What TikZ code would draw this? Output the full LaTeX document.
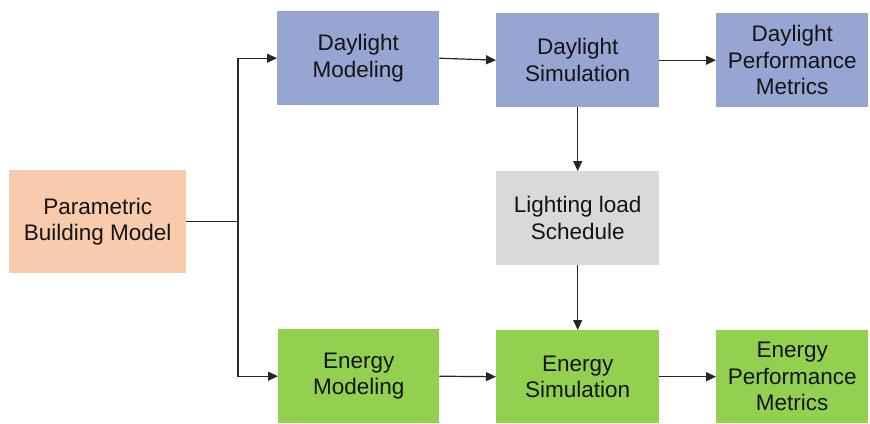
\documentclass[tikz,border=0pt]{standalone}
\usepackage{fontspec}
\setmainfont{Liberation Sans}
\usetikzlibrary{arrows.meta}
\definecolor{blueb}{HTML}{97A5D2}
\definecolor{greenb}{HTML}{92D050}
\definecolor{peachb}{HTML}{F8CBAD}
\definecolor{greyb}{HTML}{D9D9D9}
\definecolor{txt}{HTML}{141414}
\begin{document}
\begin{tikzpicture}[x=1pt,y=-1pt,
  box/.style={anchor=north west,inner sep=0pt,align=center,text=txt,
    font=\fontsize{22.5}{26.5}\selectfont},
  arr/.style={-{Triangle[length=10pt,width=9pt]},line width=1.2pt,draw=black!85}]
\useasboundingbox (0,0) rectangle (870,423);
\node[box,fill=peachb,minimum width=177pt,minimum height=103pt] (pbm) at (9,170) {Parametric\\Building Model};
\node[box,fill=blueb,minimum width=162pt,minimum height=94pt] (dm) at (277,11) {Daylight\\Modeling};
\node[box,fill=blueb,minimum width=163pt,minimum height=94pt] (ds) at (496,13) {Daylight\\Simulation};
\node[box,fill=blueb,minimum width=152pt,minimum height=94pt] (dpm) at (716,13) {Daylight\\Performance\\Metrics};
\node[box,fill=greyb,minimum width=163pt,minimum height=94pt] (lls) at (496,171) {Lighting load\\Schedule};
\node[box,fill=greenb,minimum width=161pt,minimum height=94pt] (em) at (278,329) {Energy\\Modeling};
\node[box,fill=greenb,minimum width=163pt,minimum height=93pt] (es) at (496,330) {Energy\\Simulation};
\node[box,fill=greenb,minimum width=152pt,minimum height=93pt] (epm) at (716,330) {Energy\\Performance\\Metrics};
\coordinate (jx) at (238,0);
\coordinate (j) at (pbm.east -| jx);
\draw[line width=1.2pt,draw=black!85] (pbm.east) -- (j);
\draw[arr] (j) |- (dm.west);
\draw[arr] (j) |- (em.west);
\draw[arr] (dm.east) -- (ds.west);
\draw[arr] (ds.east) -- (dpm.west);
\draw[arr] (ds.south) -- (lls.north);
\draw[arr] (lls.south) -- (es.north);
\draw[arr] (em.east) -- (es.west);
\draw[arr] (es.east) -- (epm.west);
\end{tikzpicture}
\end{document}
